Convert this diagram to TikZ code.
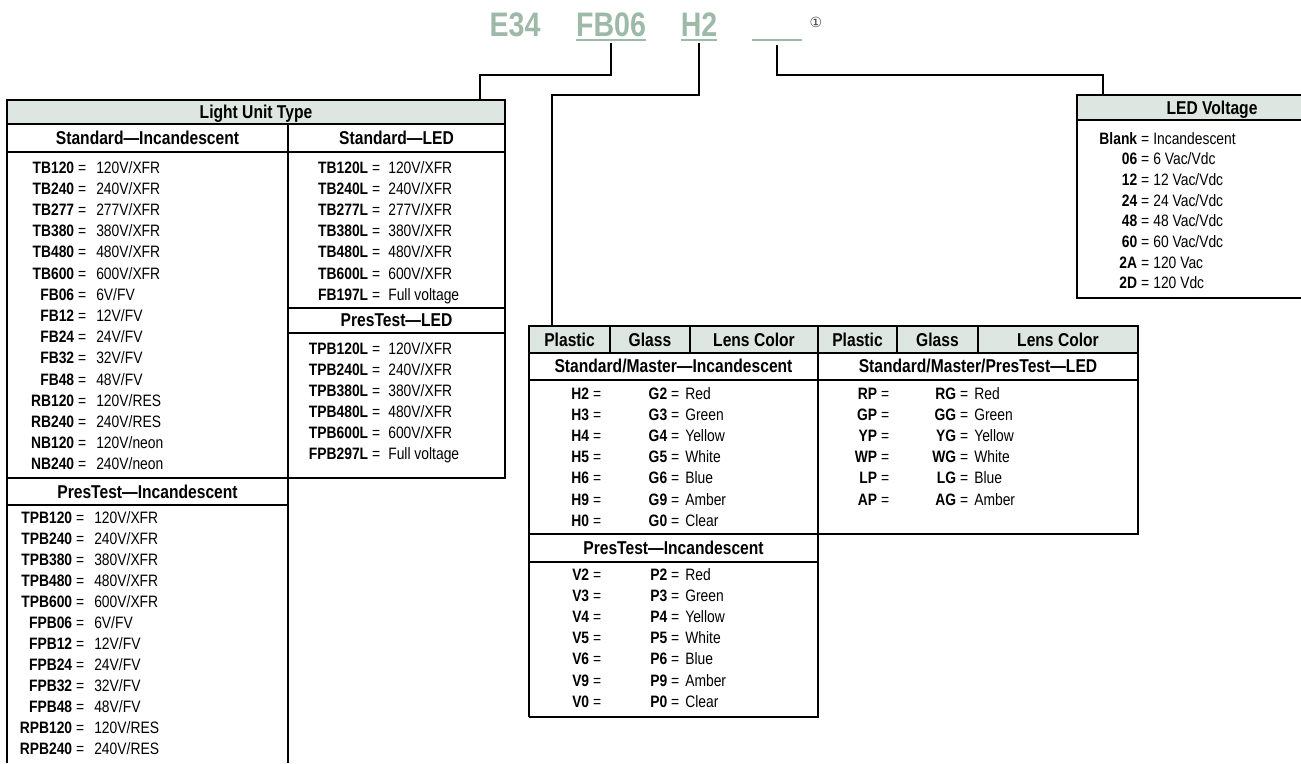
\documentclass[tikz,border=0pt]{standalone}
\usepackage{fontspec}
\setmainfont{Liberation Sans}[FakeStretch=0.84]
\newfontfamily\symfont{DejaVu Sans}
\usepackage{xcolor}
\usepackage{tikz}
\usetikzlibrary{positioning,calc}
\definecolor{codegreen}{HTML}{9DB9A7}
\definecolor{hdrfill}{HTML}{DDE6E0}
\newcommand{\rowtxt}[3]{\llap{\textbf{#1}}\hspace{4pt}=\hspace{#2}#3}

\begin{document}
\begin{tikzpicture}[x=1pt, y=-1pt,
  conn/.style={line width=2.6pt, line join=miter},
  grid/.style={line width=1.3pt},
  hdr/.style={font=\fontsize{18.6}{21}\selectfont\bfseries, inner sep=0, anchor=base},
  txt/.style={font=\fontsize{16.5}{19}\selectfont, inner sep=0, anchor=base west},
  code/.style={font=\fontsize{34}{37}\selectfont\bfseries, text=codegreen, inner sep=0, anchor=base}]
  \useasboundingbox (0,0) rectangle (1301,763);

  % catalog number
  \node[code] (e34) at (515,36) {E34};
  \node[code] (fb06) at (611,36) {FB06};
  \node[code] (h2) at (699,36) {H2};
  \node[code, minimum width=50pt] (blank) at (777,36) {};
  \node[font=\symfont\fontsize{14}{14}\selectfont, text=black!75, inner sep=0] (note) at (816,22) {①};
  \draw[codegreen, line width=2pt] ([yshift=-3.5pt]fb06.base west) -- ([yshift=-3.5pt]fb06.base east);
  \draw[codegreen, line width=2pt] ([yshift=-3.5pt]h2.base west) -- ([yshift=-3.5pt]h2.base east);
  \draw[codegreen, line width=2pt] ([yshift=-3.5pt]blank.base west) -- ([yshift=-3.5pt]blank.base east);

  % leaders
  \coordinate (lut) at (480,100);
  \coordinate (lens) at (552,326);
  \coordinate (ledv) at (1103,95);
  \draw[conn] ([yshift=-7pt]fb06.base) |- ($(lut)+(0,-25)$) -- (lut);
  \draw[conn] ([yshift=-7pt]h2.base) |- ($(lens)+(0,-231)$) -- (lens);
  \draw[conn] ([yshift=-9pt]blank.base) |- ($(ledv)+(0,-20)$) -- (ledv);

  % light unit type
  \fill[hdrfill] (7,100) rectangle (505,124);
  \draw[grid] (7,763) -- (7,100) -- (505,100) -- (505,478) -- (7,478);
  \draw[grid] (7,124) -- (505,124) (7,152) -- (505,152) (288,124) -- (288,763)
              (288,308) -- (505,308) (288,333) -- (505,333) (7,505) -- (288,505);
  \node[hdr] (lutt) at (256,118.5) {Light Unit Type};
  \node[hdr] (sinc) at (147.5,144.5) {Standard—Incandescent};
  \node[hdr] (sled) at (396.5,144.5) {Standard—LED};
  \node[hdr] (pled) at (396.5,326.5) {PresTest—LED};
  \node[hdr] (pinc) at (147.5,498.5) {PresTest—Incandescent};
  \foreach \c/\v [count=\i from 0] in {TB120/{120V/XFR}, TB240/{240V/XFR}, TB277/{277V/XFR},
      TB380/{380V/XFR}, TB480/{480V/XFR}, TB600/{600V/XFR}, FB06/{6V/FV}, FB12/{12V/FV},
      FB24/{24V/FV}, FB32/{32V/FV}, FB48/{48V/FV}, RB120/{120V/RES}, RB240/{240V/RES},
      NB120/{120V/neon}, NB240/{240V/neon}}
    \node[txt] (ua\i) at (74,{173+21.2*\i}) {\rowtxt{\c}{10pt}{\v}};
  \foreach \c/\v [count=\i from 0] in {TB120L/{120V/XFR}, TB240L/{240V/XFR}, TB277L/{277V/XFR},
      TB380L/{380V/XFR}, TB480L/{480V/XFR}, TB600L/{600V/XFR}, FB197L/{Full voltage}}
    \node[txt] (ub\i) at (368,{173+21.2*\i}) {\rowtxt{\c}{8pt}{\v}};
  \foreach \c/\v [count=\i from 0] in {TPB120L/{120V/XFR}, TPB240L/{240V/XFR}, TPB380L/{380V/XFR},
      TPB480L/{480V/XFR}, TPB600L/{600V/XFR}, FPB297L/{Full voltage}}
    \node[txt] (uc\i) at (368,{354+21*\i}) {\rowtxt{\c}{8pt}{\v}};
  \foreach \c/\v [count=\i from 0] in {TPB120/{120V/XFR}, TPB240/{240V/XFR}, TPB380/{380V/XFR},
      TPB480/{480V/XFR}, TPB600/{600V/XFR}, FPB06/{6V/FV}, FPB12/{12V/FV}, FPB24/{24V/FV},
      FPB32/{32V/FV}, FPB48/{48V/FV}, RPB120/{120V/RES}, RPB240/{240V/RES}}
    \node[txt] (ud\i) at (72,{523+21*\i}) {\rowtxt{\c}{10pt}{\v}};

  % lens
  \fill[hdrfill] (529,326) rectangle (1138,353);
  \draw[grid] (529,717) -- (529,326) -- (1138,326) -- (1138,534) -- (818,534);
  \draw[grid] (529,353) -- (1138,353) (529,380) -- (1138,380) (610,326) -- (610,353)
              (690,326) -- (690,353) (897,326) -- (897,353) (978,326) -- (978,353)
              (818,326) -- (818,717) -- (529,717) (529,534) -- (818,534) (529,562) -- (818,562);
  \node[hdr] (pl1) at (569.5,346.5) {Plastic};
  \node[hdr] (gl1) at (650,346.5) {Glass};
  \node[hdr] (lc1) at (754,346.5) {Lens Color};
  \node[hdr] (pl2) at (857.5,346.5) {Plastic};
  \node[hdr] (gl2) at (937.5,346.5) {Glass};
  \node[hdr] (lc2) at (1058,346.5) {Lens Color};
  \node[hdr] (smi) at (673.5,372.5) {Standard/Master—Incandescent};
  \node[hdr] (smp) at (978,372.5) {Standard/Master/PresTest—LED};
  \node[hdr] (pti) at (673.5,554.5) {PresTest—Incandescent};
  \foreach \p/\g/\v [count=\i from 0] in {H2/G2/Red, H3/G3/Green, H4/G4/Yellow, H5/G5/White,
      H6/G6/Blue, H9/G9/Amber, H0/G0/Clear} {
    \node[txt] (ha\i) at (589,{399+21.2*\i}) {\rowtxt{\p}{0pt}{}};
    \node[txt] (ga\i) at (667,{399+21.2*\i}) {\rowtxt{\g}{6pt}{\v}};
  }
  \foreach \p/\g/\v [count=\i from 0] in {V2/P2/Red, V3/P3/Green, V4/P4/Yellow, V5/P5/White,
      V6/P6/Blue, V9/P9/Amber, V0/P0/Clear} {
    \node[txt] (va\i) at (589,{580+21.2*\i}) {\rowtxt{\p}{0pt}{}};
    \node[txt] (pa\i) at (667,{580+21.2*\i}) {\rowtxt{\g}{6pt}{\v}};
  }
  \foreach \p/\g/\v [count=\i from 0] in {RP/RG/Red, GP/GG/Green, YP/YG/Yellow, WP/WG/White,
      LP/LG/Blue, AP/AG/Amber} {
    \node[txt] (la\i) at (877,{399+21.2*\i}) {\rowtxt{\p}{0pt}{}};
    \node[txt] (lb\i) at (956,{399+21.2*\i}) {\rowtxt{\g}{6pt}{\v}};
  }

  % led voltage
  \fill[hdrfill] (1077,95) rectangle (1301,120);
  \draw[grid] (1301,95) -- (1077,95) -- (1077,298) -- (1301,298) (1077,120) -- (1301,120);
  \node[hdr] (ledt) at (1212,114) {LED Voltage};
  \foreach \c/\v [count=\i from 0] in {Blank/Incandescent, 06/{6 Vac/Vdc}, 12/{12 Vac/Vdc},
      24/{24 Vac/Vdc}, 48/{48 Vac/Vdc}, 60/{60 Vac/Vdc}, 2A/{120 Vac}, 2D/{120 Vdc}}
    \node[txt] (lv\i) at (1137,{144+20.7*\i}) {\rowtxt{\c}{4pt}{\v}};
\end{tikzpicture}
\end{document}
